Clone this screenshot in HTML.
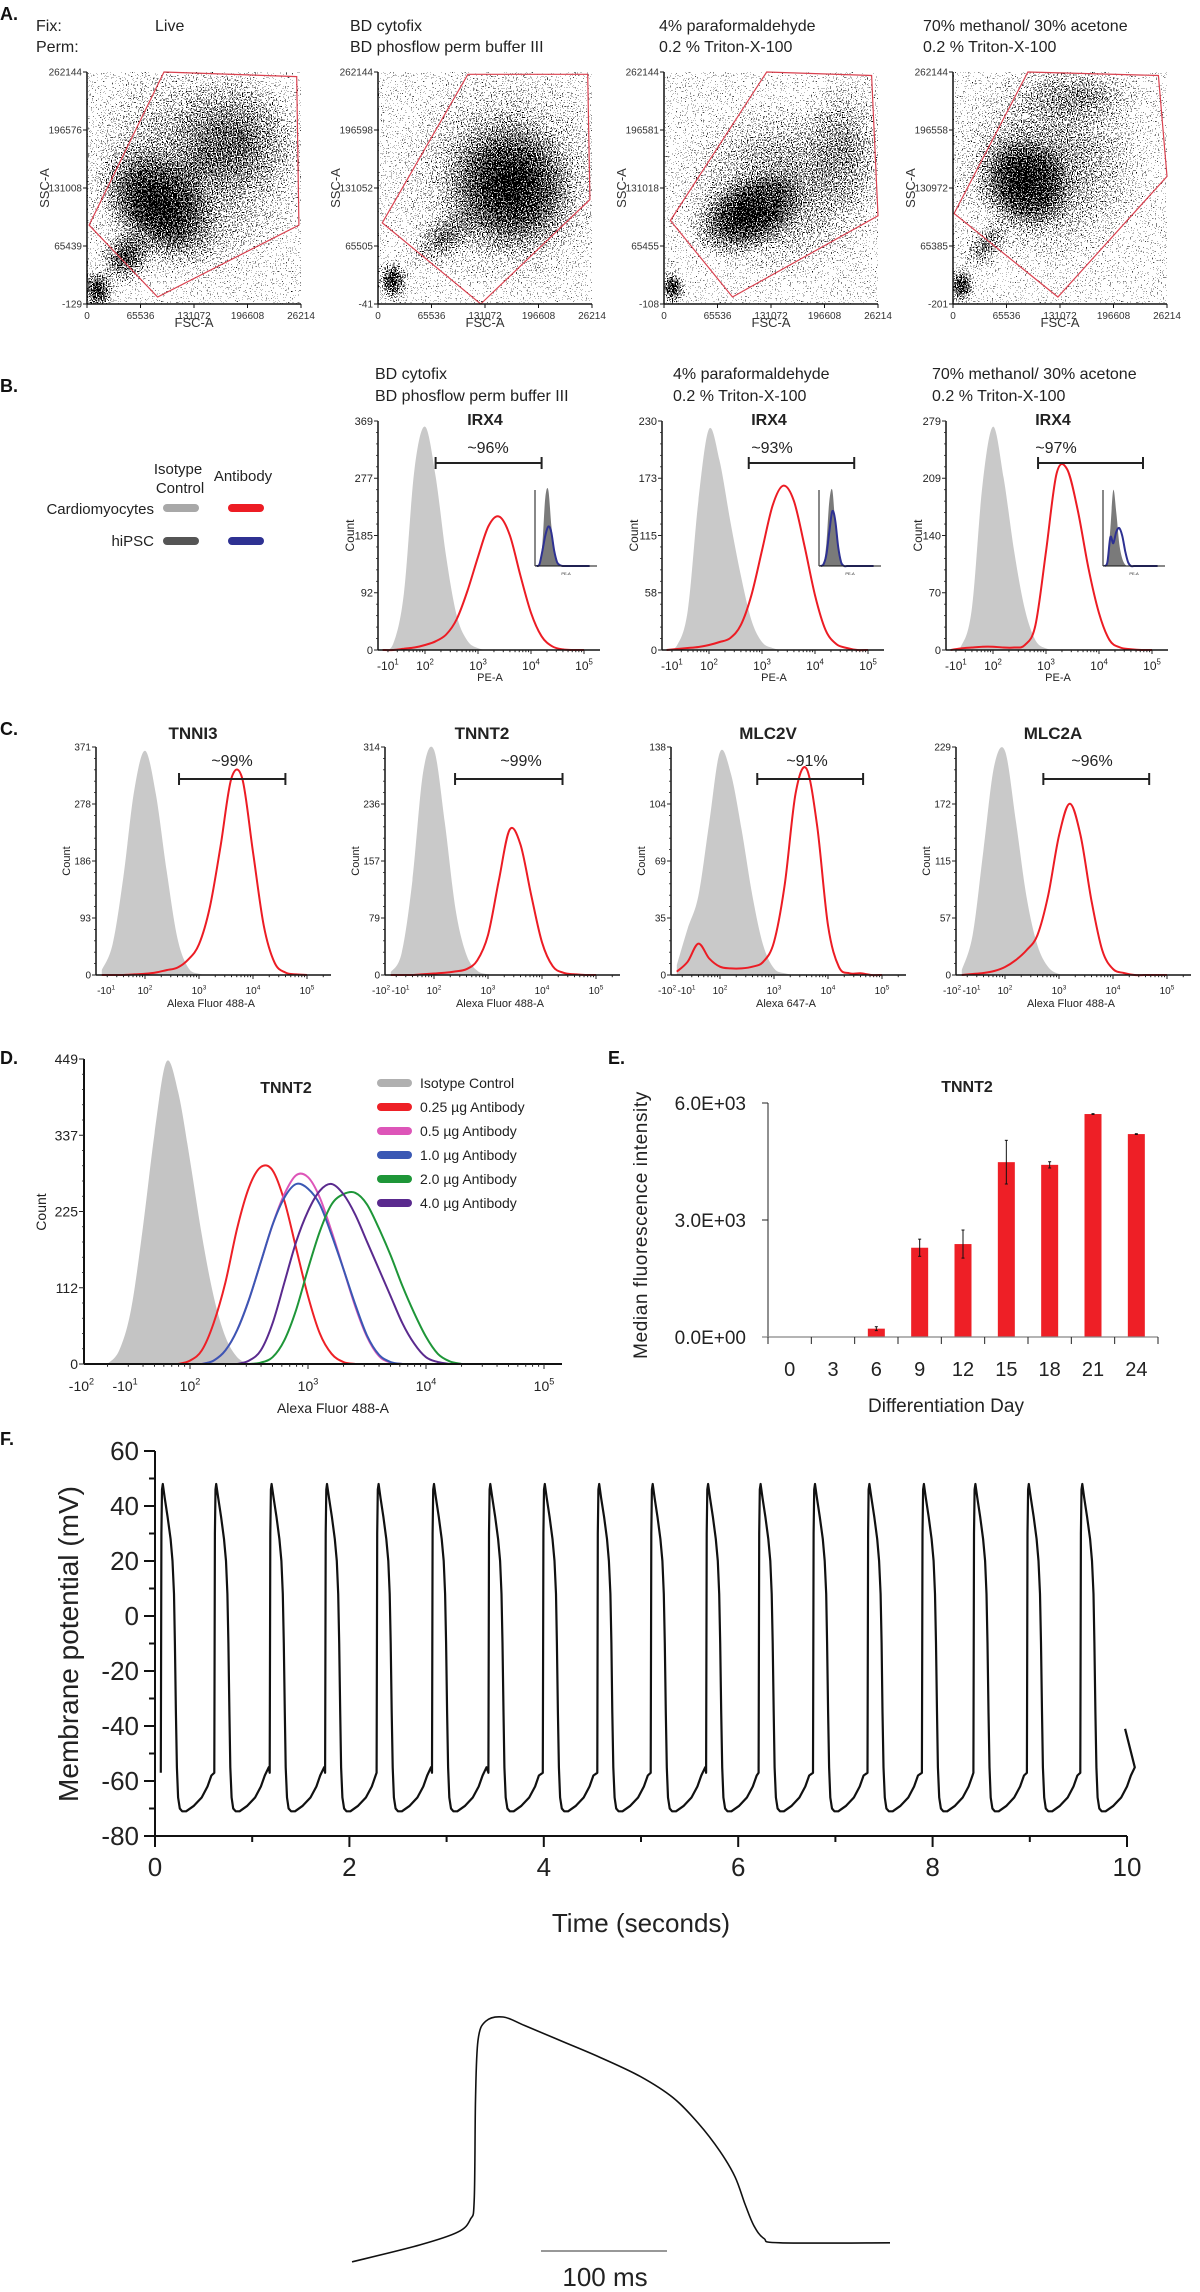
<!DOCTYPE html>
<html><head><meta charset="utf-8">
<style>
body{margin:0;background:#fff}
svg{display:block;font-family:"Liberation Sans",Arial,sans-serif}
</style></head>
<body>
<svg id="fig" width="1200" height="2292" viewBox="0 0 1200 2292">
<defs>
<radialGradient id="blob"><stop offset="0" stop-color="#000" stop-opacity="0.95"/><stop offset="0.45" stop-color="#000" stop-opacity="0.6"/><stop offset="1" stop-color="#000" stop-opacity="0"/></radialGradient>
<filter id="speck" x="-5%" y="-5%" width="110%" height="110%" color-interpolation-filters="sRGB">
<feTurbulence type="fractalNoise" baseFrequency="0.8" numOctaves="1" seed="4" result="n"/>
<feColorMatrix in="n" type="matrix" values="0 0 0 0 0  0 0 0 0 0  0 0 0 0 0  2.5 0 0 0 -0.75" result="na"/>
<feComposite in="SourceGraphic" in2="na" operator="arithmetic" k1="0" k2="1" k3="-1" k4="0.5" result="d"/>
<feComponentTransfer in="d"><feFuncR type="linear" slope="0" intercept="0"/><feFuncG type="linear" slope="0" intercept="0"/><feFuncB type="linear" slope="0" intercept="0"/><feFuncA type="discrete" tableValues="0 1"/></feComponentTransfer>
</filter>
</defs>
</svg>
<script>
// ---------- DATA ----------
// Panel A
const aAxesX=[87,378,664,953];
const aYLabels1=['262144','196576','131008','65439','-129'];
const aYLabels2=['262144','196598','131052','65505','-41'];
const aYLabels3=['262144','196581','131018','65455','-108'];
const aYLabels4=['262144','196558','130972','65385','-201'];
const aXLabels=['0','65536','131072','196608','26214'];
const aGate1=[[0.01,0.66],[0.36,0],[0.98,0.02],[0.99,0.66],[0.33,0.97]];
const aGate2=[[0.02,0.65],[0.42,0.01],[0.98,0.01],[0.99,0.55],[0.48,1.0]];
const aGate3=[[0.03,0.64],[0.48,0],[0.97,0.015],[1.0,0.62],[0.32,0.97]];
const aGate4=[[0.005,0.61],[0.35,0],[0.96,0.015],[1.0,0.45],[0.49,0.97]];
const aBlobs1=[[0.5,0.42,0.55,0.5,0,0.5],[0.33,0.58,0.24,0.32,-45,0.85],[0.05,0.94,0.09,0.1,0,0.85],[0.72,0.28,0.32,0.28,0,0.4],[0.18,0.8,0.14,0.12,-40,0.75]];
const aBlobs2=[[0.07,0.9,0.08,0.1,0,0.85],[0.62,0.5,0.33,0.32,-20,0.8],[0.6,0.45,0.55,0.5,0,0.45],[0.3,0.72,0.2,0.1,-40,0.5]];
const aBlobs3=[[0.04,0.93,0.07,0.08,0,0.85],[0.38,0.62,0.3,0.17,-25,0.85],[0.55,0.5,0.5,0.4,0,0.5],[0.85,0.3,0.22,0.32,0,0.38]];
const aBlobs4=[[0.04,0.92,0.07,0.09,0,0.85],[0.33,0.48,0.22,0.24,-40,0.85],[0.45,0.4,0.48,0.45,0,0.5],[0.6,0.1,0.34,0.13,0,0.38],[0.15,0.75,0.15,0.08,-45,0.55]];
// Panel B (u grid 1.2..5.0 step 0.2)
const bGray1=[0,10,90,290,360,280,150,55,15,3,0,0,0,0,0,0,0,0,0,0];
const bRed1=[0,0,2,4,8,14,25,50,95,150,200,215,185,120,60,22,6,1,0,0];
const bGray2=[0,5,40,150,222,190,130,75,30,8,2,0,0,0,0,0,0,0,0,0];
const bRed2=[0,1,2,3,5,8,12,25,55,100,145,165,150,105,55,20,6,2,0,0];
const bGray3=[0,5,50,200,272,210,120,50,12,2,0,0,0,0,0,0,0,0,0,0];
const bRed3=[0,2,3,4,4,3,3,6,30,120,215,220,170,100,45,12,3,1,0,0];
const bYLabels1=['369','277','185','92','0'];
const bYLabels2=['230','173','115','58','0'];
const bYLabels3=['279','209','140','70','0'];
const bPct=['~96%','~93%','~97%'];
const bBracket=[[2.2,4.2],[2.75,4.74],[2.85,4.83]];
const bInsetGray1=[0,0.02,0.3,0.9,1.0,0.55,0.2,0.05,0.01,0,0,0,0,0,0,0,0,0,0];
const bInsetBlue1=[0,0.02,0.2,0.4,0.52,0.45,0.2,0.05,0.01,0,0,0,0,0,0,0,0,0,0];
const bInsetGray2=[0,0.02,0.3,0.85,1.0,0.55,0.2,0.05,0,0,0,0,0,0,0,0,0,0,0];
const bInsetBlue2=[0,0.02,0.15,0.45,0.72,0.6,0.25,0.05,0,0,0,0,0,0,0,0,0,0,0];
const bInsetGray3=[0,0.05,0.5,1.0,0.7,0.3,0.1,0.02,0,0,0,0,0,0,0,0,0,0,0];
const bInsetBlue3=[0,0.05,0.38,0.3,0.45,0.5,0.4,0.2,0.05,0,0,0,0,0,0,0,0,0,0];
// Panel C
const cTitles=['TNNI3','TNNT2','MLC2V','MLC2A'];
const cPct=['~99%','~99%','~91%','~96%'];
const cBracket=[[2.63,4.6],[2.39,4.38],[2.69,4.65],[2.71,4.67]];
const cXTitles=['Alexa Fluor 488-A','Alexa Fluor 488-A','Alexa 647-A','Alexa Fluor 488-A'];
const cYLabels1=['371','278','186','93','0'];
const cYLabels2=['314','236','157','79','0'];
const cYLabels3=['138','104','69','35','0'];
const cYLabels4=['229','172','115','57','0'];
const cGray1=[8,50,160,300,365,295,170,60,12,2,0,0,0,0,0,0,0,0,0,0];
const cRed1=[0,0,0,1,2,4,8,12,25,50,110,210,320,320,200,80,20,4,1,0];
const cGray2=[4,30,130,280,310,210,90,28,6,1,0,0,0,0,0,0,0,0,0,0];
const cRed2=[0,0,0,1,2,3,5,8,20,55,130,200,180,110,45,12,3,1,0,0];
const cGray3=[6,28,48,92,135,122,88,48,18,4,1,0,0,0,0,0,0,0,0,0];
const cRed3=[2,8,19,10,5,4,4,5,8,20,55,110,125,90,30,5,1,1,0,0];
const cGray4=[5,40,125,210,225,155,78,30,8,1,0,0,0,0,0,0,0,0,0,0];
const cRed4=[0,1,2,4,8,15,25,40,80,140,172,140,75,25,6,2,0,0,0,0];
// Panel D (step 0.1, own start)
const dYLabels=['449','337','225','112','0'];
const dLegend=['Isotype Control','0.25 µg Antibody','0.5 µg Antibody','1.0 µg Antibody','2.0 µg Antibody','4.0 µg Antibody'];
const dGray=[0,20,80,200,340,445,400,300,190,100,40,10,0];            // from u=1.3
const dRed=[0,5,20,60,120,200,260,290,285,240,170,100,45,15,3,0];       // from u=1.9
const dPink=[0,5,20,50,95,150,205,250,278,275,245,195,140,85,40,12,2,0]; // from u=2.1
const dBlue=[0,5,20,50,95,150,205,245,265,258,235,190,140,88,42,14,3,0]; // from u=2.1
const dGreen=[0,2,10,35,80,140,195,235,250,252,235,200,160,115,75,40,15,4,0]; // from u=2.5
const dPurple=[0,5,20,60,120,180,225,255,265,250,220,180,140,100,60,30,10,3,0]; // from u=2.4
// Panel E
const eDays=['0','3','6','9','12','15','18','21','24'];
const eMfi=[0,5,214,2289,2383,4483,4414,5717,5203];
const eErr=[0,0,50,220,360,560,80,10,10];
const eYTicks=[0,3000,6000];
const eYLabels=['0.0E+00','3.0E+03','6.0E+03'];
// Panel F
const fBeatTimes=[0.06,0.61,1.18,1.75,2.28,2.85,3.43,3.99,4.55,5.10,5.67,6.21,6.77,7.33,7.89,8.42,8.97,9.52];
const fTmplT=[0,0.006,0.012,0.02,0.04,0.07,0.1,0.12,0.135,0.145,0.155,0.165,0.178,0.195,0.22,0.26,0.34,0.42,0.48,0.52,0.56];
const fTmplV=[-57,30,46,48,43,36,28,20,8,-10,-35,-55,-66,-70,-71,-71,-69,-66,-62,-58,-55];
const fEndT=9.98, fEndV=-41;
const fYTicks=[60,40,20,0,-20,-40,-60,-80];
const fXTicks=[0,2,4,6,8,10];
// Single AP trace (ms, mV)
const apMs=[0,54,84,94,97,98,100,106,120,137,165,197,229,255,275,292,304,312,319,327,340,427];
const apMv=[-67,-59,-53,-47,-38,9,37,46,48,44,37,29,20,10,-2,-15,-27,-40,-50,-56,-58,-58];

// ---------- HELPERS ----------
const NS='http://www.w3.org/2000/svg';
const svg=document.getElementById('fig');
function mk(tag,attrs,parent){const e=document.createElementNS(NS,tag);for(const k in attrs)e.setAttribute(k,attrs[k]);(parent||svg).appendChild(e);return e;}
function nm(e,name){


return e;}
function txt(p,x,y,s,size,opt){opt=opt||{};const t=mk('text',{x:x,y:y,'font-size':size,fill:opt.fill||'#222','text-anchor':opt.anchor||'start','font-weight':opt.bold?'bold':'normal'},p);if(opt.rot)t.setAttribute('transform','rotate(-90 '+x+' '+y+')');t.textContent=s;return t;}
function pow(p,x,y,base,exp,size){const t=mk('text',{x:x,y:y,'font-size':size,fill:'#222','text-anchor':'middle'},p);const a=mk('tspan',{},t);a.textContent=base;const b=mk('tspan',{dy:-size*0.45,'font-size':size*0.65},t);b.textContent=exp;return t;}
function smooth(pts){let d='M'+pts[0][0].toFixed(1)+','+pts[0][1].toFixed(1);for(let i=0;i<pts.length-1;i++){const p0=pts[i-1]||pts[i],p1=pts[i],p2=pts[i+1],p3=pts[i+2]||p2;const c1=[p1[0]+(p2[0]-p0[0])/6,p1[1]+(p2[1]-p0[1])/6],c2=[p2[0]-(p3[0]-p1[0])/6,p2[1]-(p3[1]-p1[1])/6];d+='C'+c1[0].toFixed(1)+','+c1[1].toFixed(1)+' '+c2[0].toFixed(1)+','+c2[1].toFixed(1)+' '+p2[0].toFixed(1)+','+p2[1].toFixed(1);}return d;}
function hist(p,xOf,yOf,u0,du,vals,fill,stroke,sw,base){const pts=vals.map((v,i)=>[xOf(u0+i*du),Math.min(base,yOf(v))]);let d=smooth(pts);let e;if(fill){d+='L'+pts[pts.length-1][0]+','+base+'L'+pts[0][0]+','+base+'Z';e=mk('path',{d:d,fill:fill,stroke:'none'},p);}else{e=mk('path',{d:d,fill:'none',stroke:stroke,'stroke-width':sw,'stroke-linejoin':'round'},p);}return e;}
function logTicks(p,xOf,y,u1,u2,len){for(let dec=1;dec<=5;dec++){for(let k=1;k<=9;k++){const u=dec+Math.log10(k);if(u<u1||u>u2)continue;mk('line',{x1:xOf(u),y1:y,x2:xOf(u),y2:y+(k===1?len:len*0.55),stroke:'#222','stroke-width':1},p);}}}
function yTicks(p,ax,top,bot,labels,size,len){const n=labels.length-1;for(let i=0;i<=n;i++){const y=top+(bot-top)*i/n;mk('line',{x1:ax-len,y1:y,x2:ax,y2:y,stroke:'#222','stroke-width':1},p);txt(p,ax-len-1,y+size*0.36,labels[i],size,{anchor:'end'});if(i<n){for(let m=1;m<5;m++){const ym=y+(bot-top)/n*m/5;mk('line',{x1:ax-2,y1:ym,x2:ax,y2:ym,stroke:'#222','stroke-width':0.8},p);}}}}
function label(str,x,y){const t=txt(svg,x,y,str,18,{bold:true,fill:'#111'});nm(t,'panel-label-'+str[0].toLowerCase());}

// ---------- PANEL A ----------
label('A.',0,20);
const gA=nm(mk('g',{}),'panel-a');
nm(txt(gA,36,31,'Fix:',16),'fix-label');
nm(txt(gA,36,52,'Perm:',16),'perm-label');
const aTitles=[['Live',''],['BD cytofix','BD phosflow perm buffer III'],['4% paraformaldehyde','0.2 % Triton-X-100'],['70% methanol/ 30% acetone','0.2 % Triton-X-100']];
const aTitleX=[155,350,659,923];
const aYL=[aYLabels1,aYLabels2,aYLabels3,aYLabels4];
const aG=[aGate1,aGate2,aGate3,aGate4];
const aB=[aBlobs1,aBlobs2,aBlobs3,aBlobs4];
const aW=214,aTop=72,aBot=304,aH=aBot-aTop;
aAxesX.forEach((ax,i)=>{
  const g=nm(mk('g',{},gA),'scatter-plot-'+(i+1));
  nm(txt(g,aTitleX[i],31,aTitles[i][0],16),'condition-title');
  if(aTitles[i][1]) nm(txt(g,aTitleX[i],52,aTitles[i][1],16),'condition-subtitle');
  const cp=mk('clipPath',{id:'clipA'+i},svg.querySelector('defs'));
  mk('rect',{x:ax,y:aTop,width:aW,height:aH},cp);
  const outer=mk('g',{'clip-path':'url(#clipA'+i+')'},g);
  const dens=nm(mk('g',{filter:'url(#speck)'},outer),'scatter-density');
  mk('rect',{x:ax,y:aTop,width:aW,height:aH,fill:'#000','fill-opacity':0.03},dens);
  aB[i].forEach(b=>{const cx=ax+b[0]*aW,cy=aTop+b[1]*aH;mk('ellipse',{cx:cx,cy:cy,rx:b[2]*aW,ry:b[3]*aH,fill:'url(#blob)',opacity:b[5],transform:'rotate('+b[4]+' '+cx+' '+cy+')'},dens);});
  const gate=mk('polygon',{points:aG[i].map(p=>(ax+p[0]*aW).toFixed(1)+','+(aTop+p[1]*aH).toFixed(1)).join(' '),fill:'none',stroke:'#d9414f','stroke-width':1.2},g);
  nm(gate,'gate-polygon');
  mk('line',{x1:ax,y1:aTop,x2:ax,y2:aBot,stroke:'#111','stroke-width':1.5},g);
  mk('line',{x1:ax,y1:aBot,x2:ax+aW,y2:aBot,stroke:'#111','stroke-width':1.5},g);
  aYL[i].forEach((l,k)=>{const y=aTop+aH*k/4;mk('line',{x1:ax-4,y1:y,x2:ax,y2:y,stroke:'#111'},g);txt(g,ax-5,y+3.5,l,10,{anchor:'end',fill:'#333'});});
  aXLabels.forEach((l,k)=>{const x=ax+aW*k/4;mk('line',{x1:x,y1:aBot,x2:x,y2:aBot+4,stroke:'#111'},g);txt(g,x,aBot+15,l,10,{anchor:'middle',fill:'#333'});});
  nm(txt(g,ax-38,aTop+aH/2,'SSC-A',13,{anchor:'middle',rot:true,fill:'#333'}),'y-axis-title');
  nm(txt(g,ax+aW/2,aBot+23,'FSC-A',13,{anchor:'middle',fill:'#333'}),'x-axis-title');
});

// ---------- PANEL B ----------
label('B.',0,392);
const gB=nm(mk('g',{}),'panel-b');
const leg=nm(mk('g',{},gB),'legend');
txt(leg,178,474,'Isotype',15,{anchor:'middle'});
txt(leg,180,493,'Control',15,{anchor:'middle'});
txt(leg,243,481,'Antibody',15,{anchor:'middle'});
txt(leg,154,514,'Cardiomyocytes',15,{anchor:'end'});
txt(leg,154,546,'hiPSC',15,{anchor:'end'});
[[167,508,'#a8a8a8'],[232,508,'#ed1c24'],[167,541,'#555555'],[232,541,'#2e3192']].forEach(s=>{const l=mk('line',{x1:s[0],y1:s[1],x2:s[0]+28,y2:s[1],stroke:s[2],'stroke-width':8,'stroke-linecap':'round'},leg);nm(l,'legend-swatch');});
const bAxes=[378,662,946],bW=222,bTop=421,bBot=650,bOff=47,bDec=53;
const bTitleX=[375,673,932];
const bTitles=[['BD cytofix','BD phosflow perm buffer III'],['4% paraformaldehyde','0.2 % Triton-X-100'],['70% methanol/ 30% acetone','0.2 % Triton-X-100']];
const bG=[bGray1,bGray2,bGray3],bR=[bRed1,bRed2,bRed3],bYL=[bYLabels1,bYLabels2,bYLabels3];
const bIG=[bInsetGray1,bInsetGray2,bInsetGray3],bIB=[bInsetBlue1,bInsetBlue2,bInsetBlue3];
bAxes.forEach((ax,i)=>{
  const g=nm(mk('g',{},gB),'irx4-histogram-'+(i+1));
  nm(txt(g,bTitleX[i],379,bTitles[i][0],16),'condition-title');
  nm(txt(g,bTitleX[i],401,bTitles[i][1],16),'condition-subtitle');
  const xOf=u=>ax+bOff+(u-2)*bDec;
  const ymax=+bYL[i][0];
  const yOf=v=>bBot-v/ymax*(bBot-bTop);
  nm(hist(g,xOf,yOf,1.2,0.2,bG[i],'#c9c9c9',null,0,bBot),'isotype-histogram');
  nm(hist(g,xOf,yOf,1.2,0.2,bR[i],null,'#ec1c24',2,bBot),'antibody-histogram');
  mk('line',{x1:ax,y1:bTop,x2:ax,y2:bBot,stroke:'#111','stroke-width':1.5},g);
  mk('line',{x1:ax,y1:bBot,x2:ax+bW,y2:bBot,stroke:'#111','stroke-width':1.5},g);
  yTicks(g,ax,bTop,bBot,bYL[i],11,4);
  logTicks(g,xOf,bBot,1.15,5.3,4);
  pow(g,xOf(1.3),bBot+20,'-10','1',12);
  [2,3,4,5].forEach(u=>pow(g,xOf(u),bBot+20,'10',String(u),12));
  nm(txt(g,ax+112,bBot+31,'PE-A',11,{anchor:'middle'}),'x-axis-title');
  nm(txt(g,ax-24,(bTop+bBot)/2,'Count',12,{anchor:'middle',rot:true}),'y-axis-title');
  nm(txt(g,ax+107,425,'IRX4',16,{anchor:'middle',bold:true}),'histogram-title');
  nm(txt(g,ax+110,453,bPct[i],16,{anchor:'middle'}),'percent-label');
  const br=nm(mk('g',{},g),'positive-gate-bracket');
  const x1=xOf(bBracket[i][0]),x2=xOf(bBracket[i][1]);
  mk('line',{x1:x1,y1:463,x2:x2,y2:463,stroke:'#222','stroke-width':2},br);
  mk('line',{x1:x1,y1:457,x2:x1,y2:469,stroke:'#222','stroke-width':2},br);
  mk('line',{x1:x2,y1:457,x2:x2,y2:469,stroke:'#222','stroke-width':2},br);
  const ins=nm(mk('g',{},g),'hipsc-inset');
  const ix=ax+157,iw=62,it=490,ib=566;
  const ixOf=u=>ix+(u-1.1)/4.2*iw, iyOf=v=>ib-v*(ib-it);
  hist(ins,ixOf,iyOf,1.2,0.2,bIG[i],'#7a7a7a',null,0,ib);
  hist(ins,ixOf,iyOf,1.2,0.2,bIB[i],null,'#2e3192',2,ib);
  mk('line',{x1:ix,y1:it,x2:ix,y2:ib,stroke:'#111'},ins);
  mk('line',{x1:ix,y1:ib,x2:ix+iw,y2:ib,stroke:'#111'},ins);
  txt(ins,ix+iw/2,ib+9,'PE-A',4,{anchor:'middle'});
});

// ---------- PANEL C ----------
label('C.',0,735);
const gC=nm(mk('g',{}),'panel-c');
const cAxes=[96,385,671,956],cW=235,cTop=747,cBot=975,cOff=49,cDec=54;
const cG=[cGray1,cGray2,cGray3,cGray4],cR=[cRed1,cRed2,cRed3,cRed4],cYL=[cYLabels1,cYLabels2,cYLabels3,cYLabels4];
cAxes.forEach((ax,i)=>{
  const g=nm(mk('g',{},gC),'marker-histogram-'+cTitles[i].toLowerCase());
  const xOf=u=>ax+cOff+(u-2)*cDec;
  const ymax=+cYL[i][0];
  const yOf=v=>cBot-v/ymax*(cBot-cTop);
  nm(hist(g,xOf,yOf,1.2,0.2,cG[i],'#c9c9c9',null,0,cBot),'isotype-histogram');
  nm(hist(g,xOf,yOf,1.2,0.2,cR[i],null,'#ec1c24',2,cBot),'antibody-histogram');
  mk('line',{x1:ax,y1:cTop,x2:ax,y2:cBot,stroke:'#111','stroke-width':1.5},g);
  mk('line',{x1:ax,y1:cBot,x2:ax+cW,y2:cBot,stroke:'#111','stroke-width':1.5},g);
  yTicks(g,ax,cTop,cBot,cYL[i],10,4);
  logTicks(g,xOf,cBot,1.1,5.4,4);
  if(i===0){pow(g,xOf(1.28),cBot+19,'-10','1',10);}else{pow(g,xOf(1.02),cBot+19,'-10','2',10);pow(g,xOf(1.38),cBot+19,'-10','1',10);}
  [2,3,4,5].forEach(u=>pow(g,xOf(u),cBot+19,'10',String(u),10));
  nm(txt(g,ax+115,cBot+32,cXTitles[i],11,{anchor:'middle'}),'x-axis-title');
  nm(txt(g,ax-26,(cTop+cBot)/2,'Count',11,{anchor:'middle',rot:true}),'y-axis-title');
  nm(txt(g,ax+97,739,cTitles[i],17,{anchor:'middle',bold:true}),'histogram-title');
  nm(txt(g,ax+136,766,cPct[i],16,{anchor:'middle'}),'percent-label');
  const br=nm(mk('g',{},g),'positive-gate-bracket');
  const x1=xOf(cBracket[i][0]),x2=xOf(cBracket[i][1]);
  mk('line',{x1:x1,y1:779,x2:x2,y2:779,stroke:'#222','stroke-width':2},br);
  mk('line',{x1:x1,y1:773,x2:x1,y2:785,stroke:'#222','stroke-width':2},br);
  mk('line',{x1:x2,y1:773,x2:x2,y2:785,stroke:'#222','stroke-width':2},br);
});

// ---------- PANEL D ----------
label('D.',0,1064);
const gD=nm(mk('g',{}),'panel-d');
{
  const ax=84,right=562,top=1059,bot=1364;
  const xOf=u=>190+(u-2)*118, yOf=v=>bot-v/449*(bot-top);
  nm(hist(gD,xOf,yOf,1.3,0.1,dGray,'#c4c4c4',null,0,bot),'isotype-histogram');
  nm(hist(gD,xOf,yOf,1.9,0.1,dRed,null,'#ee2026',2,bot),'curve-0-25ug');
  nm(hist(gD,xOf,yOf,2.1,0.1,dPink,null,'#dd55b8',2,bot),'curve-0-5ug');
  nm(hist(gD,xOf,yOf,2.1,0.1,dBlue,null,'#3a58b4',2,bot),'curve-1-0ug');
  nm(hist(gD,xOf,yOf,2.5,0.1,dGreen,null,'#1e9638',2,bot),'curve-2-0ug');
  nm(hist(gD,xOf,yOf,2.4,0.1,dPurple,null,'#5a2a8e',2,bot),'curve-4-0ug');
  mk('line',{x1:ax,y1:top,x2:ax,y2:bot,stroke:'#111','stroke-width':2},gD);
  mk('line',{x1:ax,y1:bot,x2:right,y2:bot,stroke:'#111','stroke-width':2},gD);
  yTicks(gD,ax,top,bot,dYLabels,14,5);
  logTicks(gD,xOf,bot,1.05,5.1,5);
  pow(gD,xOf(1.08),bot+27,'-10','2',14);
  pow(gD,xOf(1.45),bot+27,'-10','1',14);
  [2,3,4,5].forEach(u=>pow(gD,xOf(u),bot+27,'10',String(u),14));
  nm(txt(gD,333,1413,'Alexa Fluor 488-A',14,{anchor:'middle'}),'x-axis-title');
  nm(txt(gD,46,1212,'Count',14,{anchor:'middle',rot:true}),'y-axis-title');
  nm(txt(gD,286,1093,'TNNT2',16,{anchor:'middle',bold:true}),'chart-title');
  const cols=['#b0b0b0','#ee2026','#dd55b8','#3a58b4','#1e9638','#5a2a8e'];
  dLegend.forEach((l,k)=>{const y=1083+k*24;const e=nm(mk('g',{},gD),'legend-entry');mk('line',{x1:381,y1:y,x2:408,y2:y,stroke:cols[k],'stroke-width':8,'stroke-linecap':'round'},e);txt(e,420,y+5,l,14);});
}

// ---------- PANEL E ----------
nm(txt(svg,608,1064,'E.',18,{bold:true,fill:'#111'}),'panel-label-e');
const gE=nm(mk('g',{}),'panel-e');
{
  const ax=768,right=1158,top=1103,bot=1337;
  const band=(right-ax)/eDays.length;
  const yOf=v=>bot-v/6000*(bot-top);
  mk('line',{x1:ax,y1:top,x2:ax,y2:bot,stroke:'#222','stroke-width':1},gE);
  eYTicks.forEach((v,k)=>{mk('line',{x1:ax-6,y1:yOf(v),x2:ax,y2:yOf(v),stroke:'#222'},gE);nm(txt(gE,746,yOf(v)+7,eYLabels[k],19,{anchor:'end'}),'y-tick-label');});
  eMfi.forEach((v,k)=>{
    const cx=ax+band*(k+0.5);
    const r=mk('rect',{x:cx-8.5,y:yOf(v),width:17,height:bot-yOf(v),fill:'#ee1f26'},gE);
    nm(r,'bar-day-'+eDays[k]);
    if(eErr[k]>0){const eb=nm(mk('g',{},gE),'error-bar');mk('line',{x1:cx,y1:yOf(v+eErr[k]),x2:cx,y2:yOf(v-eErr[k]),stroke:'#111','stroke-width':1},eb);mk('line',{x1:cx-1.5,y1:yOf(v+eErr[k]),x2:cx+1.5,y2:yOf(v+eErr[k]),stroke:'#111'},eb);mk('line',{x1:cx-1.5,y1:yOf(v-eErr[k]),x2:cx+1.5,y2:yOf(v-eErr[k]),stroke:'#111'},eb);}
    nm(txt(gE,cx,1376,eDays[k],20,{anchor:'middle'}),'x-tick-label');
  });
  mk('line',{x1:ax-6,y1:bot,x2:right,y2:bot,stroke:'#888','stroke-width':1.2},gE);
  for(let k=0;k<=eDays.length;k++){mk('line',{x1:ax+band*k,y1:bot,x2:ax+band*k,y2:bot+7,stroke:'#222'},gE);}
  nm(txt(gE,967,1092,'TNNT2',16,{anchor:'middle',bold:true}),'chart-title');
  nm(txt(gE,946,1412,'Differentiation Day',19,{anchor:'middle'}),'x-axis-title');
  const yt=nm(txt(gE,647,1225,'Median fluorescence intensity',19,{anchor:'middle',rot:true}),'y-axis-title');
  yt.setAttribute('letter-spacing','0.6');
}

// ---------- PANEL F ----------
label('F.',0,1445);
const gF=nm(mk('g',{}),'panel-f');
{
  const ax=155,yOf=v=>1616-v*2.75,xOf=t=>ax+t*97.2;
  let pts=[];
  fBeatTimes.forEach((bt,b)=>{
    const next=b<fBeatTimes.length-1?fBeatTimes[b+1]:99;
    fTmplT.forEach((dt,k)=>{if(bt+dt<next)pts.push([xOf(bt+dt),yOf(fTmplV[k])]);});
  });
  pts.push([xOf(fEndT),yOf(fEndV)]);
  const tr=mk('polyline',{points:pts.map(p=>p[0].toFixed(1)+','+p[1].toFixed(1)).join(' '),fill:'none',stroke:'#111','stroke-width':2.2,'stroke-linejoin':'round'},gF);
  nm(tr,'membrane-potential-trace');
  mk('line',{x1:ax,y1:yOf(60),x2:ax,y2:yOf(-80),stroke:'#111','stroke-width':2},gF);
  mk('line',{x1:ax,y1:yOf(-80),x2:xOf(10),y2:yOf(-80),stroke:'#111','stroke-width':2},gF);
  fYTicks.forEach(v=>{mk('line',{x1:ax-11,y1:yOf(v),x2:ax,y2:yOf(v),stroke:'#111','stroke-width':2},gF);if(v>-80)mk('line',{x1:ax-6,y1:yOf(v-10),x2:ax,y2:yOf(v-10),stroke:'#111','stroke-width':2},gF);nm(txt(gF,139,yOf(v)+9,String(v),26,{anchor:'end'}),'y-tick-label');});
  fXTicks.forEach(t=>{mk('line',{x1:xOf(t),y1:yOf(-80),x2:xOf(t),y2:yOf(-80)+11,stroke:'#111','stroke-width':2},gF);if(t<10)mk('line',{x1:xOf(t+1),y1:yOf(-80),x2:xOf(t+1),y2:yOf(-80)+6,stroke:'#111','stroke-width':2},gF);nm(txt(gF,xOf(t),1876,String(t),26,{anchor:'middle'}),'x-tick-label');});
  nm(txt(gF,641,1932,'Time (seconds)',26,{anchor:'middle'}),'x-axis-title');
  nm(txt(gF,78,1644,'Membrane potential (mV)',28,{anchor:'middle',rot:true}),'y-axis-title');
}

// ---------- SINGLE AP ----------
const gAP=nm(mk('g',{}),'single-action-potential');
{
  const xOf=ms=>352+ms*1.26, yOf=v=>2017+(48-v)*2.13;
  const ap=mk('path',{d:smooth(apMs.map((m,k)=>[xOf(m),yOf(apMv[k])])),fill:'none',stroke:'#111','stroke-width':1.6},gAP);
  nm(ap,'action-potential-trace');
  const sb=mk('line',{x1:xOf(150),y1:2251,x2:xOf(250),y2:2251,stroke:'#777','stroke-width':1.5},gAP);
  nm(sb,'scale-bar');
  nm(txt(gAP,605,2286,'100 ms',26,{anchor:'middle'}),'scale-bar-label');
}
</script>
</body></html>
